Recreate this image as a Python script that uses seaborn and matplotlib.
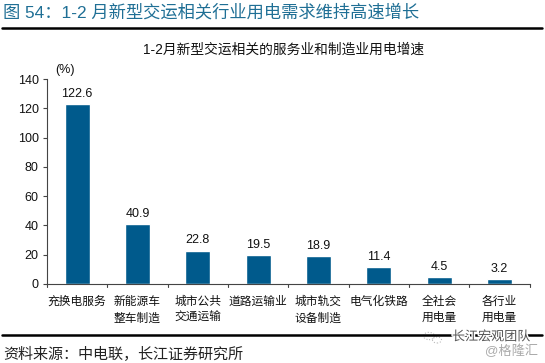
import matplotlib
matplotlib.use("Agg")
import matplotlib.pyplot as plt
import matplotlib.patheffects as pe
import pandas as pd
import seaborn as sns

categories = ['充换电服务', '新能源车\n整车制造', '城市公共\n交通运输', '道路运输业',
              '城市轨交\n设备制造', '电气化铁路', '全社会\n用电量', '各行业\n用电量']
growth = [122.6, 40.9, 22.8, 19.5, 18.9, 11.4, 4.5, 3.2]
yticks = [0, 20, 40, 60, 80, 100, 120, 140]

W, H = 545, 363

sns.set_theme(style='white')
plt.rcParams['font.family'] = ['Liberation Sans', 'Noto Sans CJK SC', 'DejaVu Sans']

df = pd.DataFrame({'cat': categories, 'growth': growth})

fig = plt.figure(figsize=(W / 100, H / 100), dpi=100)
ax = fig.add_axes([47 / W, 1 - 284 / H, (529.5 - 47) / W, (284 - 79) / H])

sns.barplot(data=df, x='cat', y='growth', color='#005a8c', saturation=1, width=0.415, ax=ax)
for bars in ax.containers:
    ax.bar_label(bars, fmt='%.1f', padding=3, fontsize=9, color='#111111')

ax.set_xlim(-0.5, 7.5)
ax.set_ylim(0, 140)
ax.set_yticks(yticks)
ax.set_xlabel('')
ax.set_ylabel('')
ax.tick_params(axis='y', length=3, width=0.8, color='#444444', labelsize=9, pad=3, left=True, labelcolor='#111111')
ax.tick_params(axis='x', length=0, labelsize=8.45, pad=8.5, labelcolor='#111111')
for lab in ax.get_xticklabels():
    lab.set_linespacing(1.5)
# category separators on the x axis
for i in range(9):
    ax.plot([i - 0.5, i - 0.5], [0, -0.015], transform=ax.get_xaxis_transform(),
            color='#444444', lw=0.8, clip_on=False)
sns.despine(ax=ax)
ax.spines['left'].set_color('#444444')
ax.spines['bottom'].set_color('#444444')
ax.spines['left'].set_linewidth(0.8)
ax.spines['bottom'].set_linewidth(0.8)

fig.text(55 / W, 1 - 70 / H, '(%)', fontsize=9, va='center', color='#111111')
fig.text(3 / W, 1 - 12 / H, '图 54：1-2 月新型交运相关行业用电需求维持高速增长', fontsize=12.45,
         va='center', color='#1f6f95')
fig.text(283.5 / W, 1 - 50 / H, '1-2月新型交运相关的服务业和制造业用电增速', fontsize=9.9,
         ha='center', va='center', color='#111111')
fig.text(3 / W, 1 - 354 / H, '资料来源：中电联，长江证券研究所', fontsize=10.85, va='center', color='#222222')

# heavy rules above and below the chart
fig.add_artist(plt.Line2D([2 / W, 542 / W], [1 - 28 / H] * 2, color='black', lw=1.8))
fig.add_artist(plt.Line2D([2 / W, 542 / W], [1 - 334.5 / H] * 2, color='black', lw=1.8))

# watermark, it breaks the lower rule
halo = [pe.withStroke(linewidth=2, foreground='white')]
fig.add_artist(plt.Rectangle((420 / W, 1 - 345 / H), 26 / W, 14 / H, color='white', ec='none'))
for cx, cy, r in [(429, 336, 5.5), (437, 340, 4.5)]:
    fig.add_artist(plt.Circle((cx / W, 1 - cy / H), r / W, fill=False, ec='#bbbbbb', lw=0.8, ls=':'))
fig.text(452 / W, 1 - 337 / H, '长江宏观团队', fontsize=9.4, va='center', color='#555555', path_effects=halo)
fig.text(485 / W, 1 - 351 / H, '@格隆汇', fontsize=9.5, va='center', color='#aaaaaa')

fig.savefig('out.png', dpi=100)
